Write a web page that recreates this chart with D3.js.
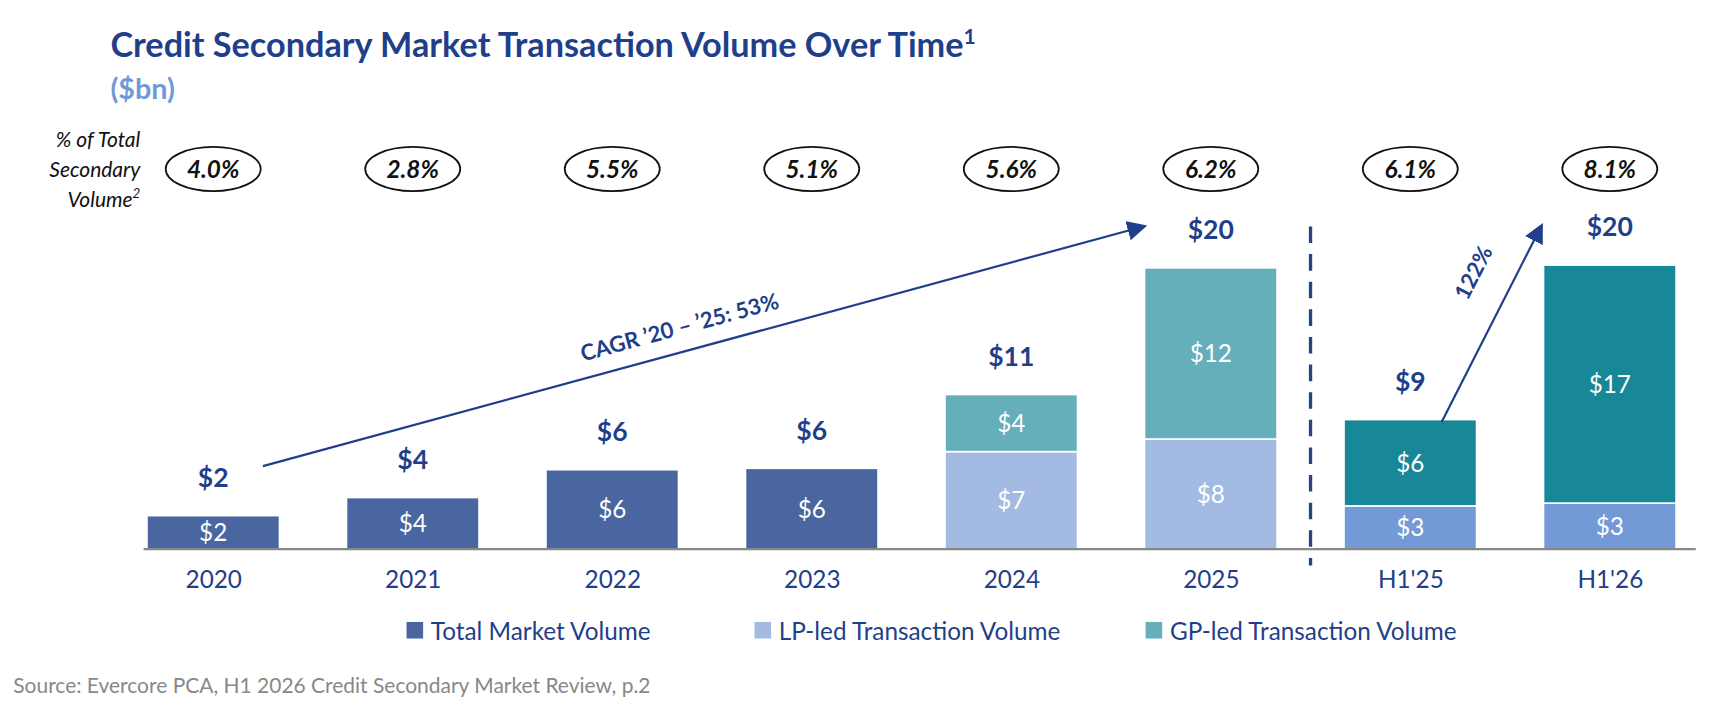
<!DOCTYPE html>
<html>
<head>
<meta charset="utf-8">
<script src="https://cdn.jsdelivr.net/npm/d3@7"></script>
<style>
  body { margin: 0; background: #fff; }
  text { font-family: Lato, "Open Sans", sans-serif; }
</style>
</head>
<body>
<svg id="chart" width="1730" height="710" viewBox="0 0 1566 642.7"></svg>
<script>
// chart values ($bn)
var categories = ["2020", "2021", "2022", "2023", "2024", "2025", "H1'25", "H1'26"];
var totalVol = [2.4, 3.7, 5.7, 5.8, null, null, null, null];
var lpVol    = [null, null, null, null, 7.0, 7.9, 3.1, 3.3];
var gpVol    = [null, null, null, null, 4.1, 12.3, 6.2, 17.1];
var pctTotal = ["4.0%", "2.8%", "5.5%", "5.1%", "5.6%", "6.2%", "6.1%", "8.1%"];
var legendNames = ["Total Market Volume", "LP-led Transaction Volume", "GP-led Transaction Volume"];

var navy = "#1f3f8a";
var svg = d3.select("#chart");

var x = d3.scalePoint().domain(categories).range([102.7, 1547.5]).padding(0.5);
var y = d3.scaleLinear().domain([0, 20]).range([497, 245]);
var barW = 120;

function fmt(v) { return "$" + Math.round(v); }
function isHalf(i) { return categories[i].startsWith("H1"); }

// title
svg.append("text").attr("x", 100).attr("y", 52).attr("fill", navy)
  .attr("font-size", 31).attr("font-weight", 700)
  .text("Credit Secondary Market Transaction Volume Over Time")
  .append("tspan").attr("font-size", 19).attr("dy", -12).text("1");
svg.append("text").attr("x", 100).attr("y", 90).attr("fill", "#6f9ad8")
  .attr("font-size", 26).attr("font-weight", 700).text("($bn)");

// % of total labels
["% of Total", "Secondary", "Volume"].forEach(function (t, k) {
  var tx = svg.append("text").attr("x", 127).attr("y", 133 + k * 27)
    .attr("text-anchor", "end").attr("font-style", "italic").attr("font-size", 19)
    .attr("fill", "#111").text(t);
  if (k === 2) tx.append("tspan").attr("font-size", 12).attr("dy", -8).text("2");
});
var pct = svg.append("g").selectAll("g").data(categories).join("g")
  .attr("transform", function (d) { return "translate(" + x(d) + ",153)"; });
pct.append("ellipse").attr("rx", 43).attr("ry", 20).attr("fill", "none")
  .attr("stroke", "#111").attr("stroke-width", 1.6);
pct.append("text").attr("y", 8).attr("text-anchor", "middle").attr("font-size", 22)
  .attr("font-weight", 700).attr("font-style", "italic").attr("fill", "#111")
  .text(function (d, i) { return pctTotal[i]; });

// bars
var segs = [];
categories.forEach(function (c, i) {
  if (totalVol[i] != null) {
    segs.push({ c: c, y0: 0, y1: totalVol[i], color: "#4a66a0" });
  } else {
    segs.push({ c: c, y0: 0, y1: lpVol[i], color: isHalf(i) ? "#7399d6" : "#a3bbe3" });
    segs.push({ c: c, y0: lpVol[i], y1: lpVol[i] + gpVol[i], color: isHalf(i) ? "#188797" : "#65afbb" });
  }
});
svg.append("g").selectAll("rect").data(segs).join("rect")
  .attr("x", function (d) { return x(d.c) - barW / 2; })
  .attr("y", function (d) { return y(d.y1); })
  .attr("width", barW)
  .attr("height", function (d) { return y(d.y0) - y(d.y1); })
  .attr("fill", function (d) { return d.color; })
  .attr("stroke", "#fff").attr("stroke-width", 1.5);
svg.append("g").selectAll("text").data(segs).join("text")
  .attr("x", function (d) { return x(d.c); })
  .attr("y", function (d) { return (y(d.y0) + y(d.y1)) / 2 + 8; })
  .attr("text-anchor", "middle").attr("fill", "#fff").attr("font-size", 22)
  .text(function (d) { return fmt(d.y1 - d.y0); });

// totals above
svg.append("g").selectAll("text").data(categories).join("text")
  .attr("x", function (d) { return x(d); })
  .attr("y", function (d, i) {
    var t = totalVol[i] != null ? totalVol[i] : lpVol[i] + gpVol[i];
    return y(t) - 26;
  })
  .attr("text-anchor", "middle").attr("fill", navy).attr("font-size", 24).attr("font-weight", 700)
  .text(function (d, i) { return fmt(totalVol[i] != null ? totalVol[i] : lpVol[i] + gpVol[i]); });

// axis
var xAxis = svg.append("g").attr("transform", "translate(0," + y(0) + ")")
  .call(d3.axisBottom(x).tickSize(0).tickPadding(20));
xAxis.select(".domain").remove();
xAxis.selectAll("text").attr("font-size", 22).attr("fill", navy)
  .attr("font-family", "Lato, sans-serif");
svg.append("line").attr("x1", 130).attr("x2", 1535).attr("y1", y(0)).attr("y2", y(0))
  .attr("stroke", "#888").attr("stroke-width", 2);

// divider
var divX = (x("2025") + x("H1'25")) / 2;
svg.append("line").attr("x1", divX).attr("x2", divX).attr("y1", 205).attr("y2", 512)
  .attr("stroke", "#24457f").attr("stroke-width", 3).attr("stroke-dasharray", "15,10");

// arrows
svg.append("defs").append("marker").attr("id", "ah").attr("viewBox", "0 0 10 10")
  .attr("refX", 8).attr("refY", 5).attr("markerWidth", 7).attr("markerHeight", 7)
  .attr("markerUnits", "userSpaceOnUse").attr("orient", "auto")
  .append("path").attr("d", "M0,0L10,5L0,10z").attr("fill", navy);
d3.select("marker").attr("markerWidth", 18).attr("markerHeight", 18);
function arrow(x1, y1, x2, y2) {
  svg.append("line").attr("x1", x1).attr("y1", y1).attr("x2", x2).attr("y2", y2)
    .attr("stroke", navy).attr("stroke-width", 2).attr("marker-end", "url(#ah)");
}
arrow(238, 422, 1035, 205);
arrow(1305, 382, 1395, 205);
var ang1 = Math.atan2(205 - 422, 1035 - 238) * 180 / Math.PI;
svg.append("text").attr("transform", "translate(617,303) rotate(" + ang1 + ")")
  .attr("text-anchor", "middle").attr("font-size", 20).attr("font-weight", 700).attr("fill", navy)
  .text("CAGR ’20 – ’25: 53%");
var ang2 = Math.atan2(205 - 382, 1395 - 1305) * 180 / Math.PI;
svg.append("text").attr("transform", "translate(1340,250) rotate(" + ang2 + ")")
  .attr("text-anchor", "middle").attr("font-size", 20).attr("font-weight", 700).attr("fill", navy)
  .text("122%");

// legend
var legColors = ["#4a66a0", "#a3bbe3", "#65afbb"];
var legX = [368, 683, 1037];
legendNames.forEach(function (n, i) {
  svg.append("rect").attr("x", legX[i]).attr("y", 563).attr("width", 15).attr("height", 15)
    .attr("fill", legColors[i]);
  svg.append("text").attr("x", legX[i] + 22).attr("y", 579).attr("font-size", 22)
    .attr("fill", navy).text(n);
});

// source
svg.append("text").attr("x", 12).attr("y", 627).attr("font-size", 19).attr("fill", "#888")
  .attr("font-family", "DejaVu Sans, sans-serif")
  .text("Source: Evercore PCA, H1 2026 Credit Secondary Market Review, p.2");
</script>
</body>
</html>
